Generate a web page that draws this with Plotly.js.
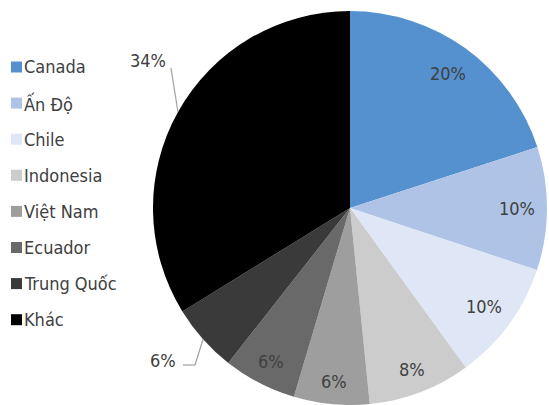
<!DOCTYPE html>
<html>
<head>
<meta charset="utf-8">
<script src="https://cdn.plot.ly/plotly-3.0.1.min.js"></script>
<style>html,body{margin:0;padding:0;background:#fff;overflow:hidden;}</style>
</head>
<body>
<div id="chart" style="width:549px;height:405px;"></div>
<script>
// Data (shares in %)
const labels = ["Canada", "Ấn Độ", "Chile", "Indonesia", "Việt Nam", "Ecuador", "Trung Quốc", "Khác"];
const values = [20.0, 10.1, 9.9, 8.4, 6.2, 6.0, 5.6, 33.8];
const colors = ["#5591CE", "#AEC3E5", "#DFE6F5", "#CCCCCC", "#9E9E9E", "#696969", "#3A3A3A", "#000000"];

// Layout geometry (pixels)
const W = 549, H = 405;
const cx = 350, cy = 208, R = 197;
const FONT = "DejaVu Sans Condensed, DejaVu Sans, sans-serif";
const TXT = "#404040";
const px = x => x / W;
const py = y => 1 - y / H;
const labelRadius = [0.845, 0.85, 0.845, 0.88, 0.885, 0.875, 1, 1];

const total = values.reduce((a, b) => a + b, 0);
const polar = (frac, r) => {
  const t = frac * 2 * Math.PI;
  return [cx + r * Math.sin(t), cy - r * Math.cos(t)];
};

// outside label decorations (positions only)
const outside = {
  6: {path: [[195, 365], [183, 365]], text: [163, 360]},
  7: {path: [[171, 68]], text: [148, 60]}
};

const annotations = [];
const shapes = [];
let cum = 0;
values.forEach((v, i) => {
  const mid = (cum + v / 2) / total;
  cum += v;
  const txt = Math.round(v / total * 100) + "%";
  if (outside[i]) {
    const o = outside[i];
    const start = polar(mid, R);
    const pts = [start].concat(o.path);
    for (let k = 0; k < pts.length - 1; k++) {
      shapes.push({type: "line", xref: "paper", yref: "paper",
        x0: px(pts[k][0]), y0: py(pts[k][1]), x1: px(pts[k + 1][0]), y1: py(pts[k + 1][1]),
        line: {color: "#A6A6A6", width: 1.3}});
    }
    annotations.push({xref: "paper", yref: "paper", x: px(o.text[0]), y: py(o.text[1]),
      text: txt, showarrow: false, xanchor: "center", yanchor: "middle",
      font: {family: FONT, size: 18, color: TXT}});
  } else {
    const p = polar(mid, R * labelRadius[i]);
    annotations.push({xref: "paper", yref: "paper", x: px(p[0]), y: py(p[1]),
      text: txt, showarrow: false, xanchor: "center", yanchor: "middle",
      font: {family: FONT, size: 18, color: TXT}});
  }
});

// manual legend
labels.forEach((l, i) => {
  const yc = 67 + i * 36.1;
  shapes.push({type: "rect", xref: "paper", yref: "paper",
    x0: px(11), x1: px(22), y0: py(yc - 5.5), y1: py(yc + 5.5),
    fillcolor: colors[i], line: {width: 0}});
  annotations.push({xref: "paper", yref: "paper", x: px(22), y: py(yc),
    text: l, showarrow: false, xanchor: "left", yanchor: "middle",
    font: {family: FONT, size: 18, color: TXT}});
});

const trace = {
  type: "pie",
  labels: labels,
  values: values,
  sort: false,
  direction: "clockwise",
  rotation: 0,
  textinfo: "none",
  hoverinfo: "label+percent",
  marker: {colors: colors, line: {width: 0}},
  domain: {x: [(cx - R) / W, (cx + R) / W], y: [0, 2 * R / H]},
  showlegend: false
};

Plotly.newPlot("chart", [trace], {
  width: W, height: H,
  margin: {l: 0, r: 0, t: 0, b: 0},
  paper_bgcolor: "#ffffff",
  showlegend: false,
  annotations: annotations,
  shapes: shapes
}, {displayModeBar: false, staticPlot: true});
</script>
</body>
</html>
